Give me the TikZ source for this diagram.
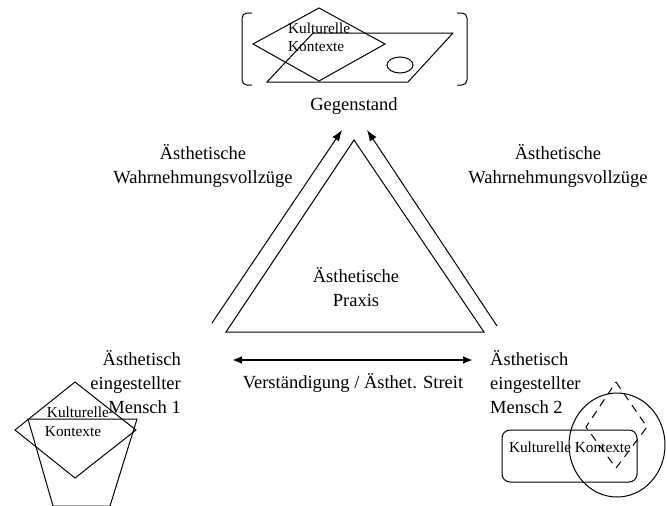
\documentclass[tikz,border=0pt]{standalone}
\usepackage{fontspec}
\setmainfont{Liberation Serif}
\usetikzlibrary{arrows.meta}
\tikzset{
  lbl/.style={inner sep=0pt, font=\fontsize{18.5}{24}\selectfont},
  small/.style={inner sep=0pt, font=\fontsize{15.3}{20}\selectfont},
  shape line/.style={line width=1pt},
  flow/.style={line width=1pt, -{Latex[length=11pt,width=8pt]}},
  dbl/.style={line width=2pt, {Latex[length=10pt,width=8pt]}-{Latex[length=10pt,width=8pt]}}
}
\begin{document}
\begin{tikzpicture}[x=1pt,y=-1pt]
\useasboundingbox[fill=white] (0,0) rectangle (667,506);

% ---- Gegenstand group ----
\draw[shape line, rounded corners=5pt] (252,13) -- (242,13) -- (242,85) -- (252,85);
\draw[shape line, rounded corners=5pt] (457,13) -- (467,13) -- (467,85) -- (457,85);
\draw[shape line] (313,33) -- (453,33) -- (408,82) -- (267,82) -- cycle;
\draw[shape line] (319,8) -- (385,44) -- (319,81) -- (253,44) -- cycle;
\draw[shape line] (400,65) ellipse [x radius=13, y radius=8];
\node[small, anchor=west] (kk1a) at (288,28) {Kulturelle};
\node[small, anchor=west] (kk1b) at (288,47) {Kontexte};
\node[lbl] (gegen) at (354,106) {Gegenstand};

% ---- triangle ----
\coordinate (tA) at (354,140);
\coordinate (tL) at (226,332);
\coordinate (tR) at (484,332);
\draw[shape line] (tA) -- (tR) -- (tL) -- cycle;
\node[lbl, align=center] (praxis) at (356,287) {Ästhetische\\Praxis};

% ---- arrows ----
\coordinate (aLs) at (212,323);
\coordinate (aLe) at (342,130);
\coordinate (aRs) at (497,326);
\coordinate (aRe) at (367,130);
\draw[flow] (aLs) -- (aLe);
\draw[flow] (aRs) -- (aRe);

\node[lbl, align=center] (wahrL) at (203,166) {Ästhetische\\Wahrnehmungsvollzüge};
\node[lbl, align=center] (wahrR) at (558,166) {Ästhetische\\Wahrnehmungsvollzüge};

% ---- bottom ----
\coordinate (dL) at (232,360);
\coordinate (dR) at (473,360);
\draw[dbl] (dL) -- (dR);
\node[lbl] (verst) at (353,383) {Verständigung / Ästhet. Streit};

\node[lbl, align=right, anchor=east] (m1) at (181,382) {Ästhetisch\\eingestellter\\Mensch 1};
\node[lbl, align=left, anchor=west] (m2) at (490,382) {Ästhetisch\\eingestellter\\Mensch 2};

% ---- Mensch 1 figure ----
\draw[shape line] (28,419) -- (137,419) -- (110,506) -- (53,506) -- cycle;
\draw[shape line] (75,382) -- (136,430) -- (75,478) -- (15,430) -- cycle;
\node[small] (kk2a) at (78,412) {Kulturelle};
\node[small] (kk2b) at (73,432) {Kontexte};

% ---- Mensch 2 figure ----
\draw[shape line] (617,445) ellipse [x radius=48, y radius=52];
\draw[shape line, dash pattern=on 8pt off 6pt] (616,382) -- (647,427) -- (616,468) -- (586,427) -- cycle;
\draw[shape line, rounded corners=8pt] (502,430) rectangle (637,482);
\node[small] (kk3) at (570,447) {Kulturelle Kontexte};
\end{tikzpicture}
\end{document}
